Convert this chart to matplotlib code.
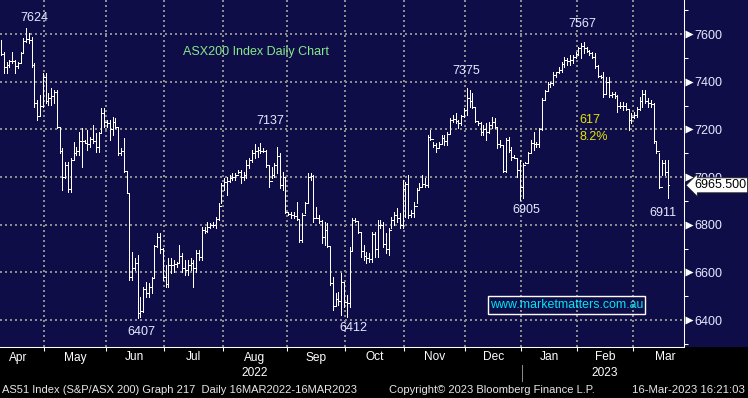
import numpy as np
import matplotlib
matplotlib.use('Agg')
import matplotlib.pyplot as plt
from matplotlib.patches import Rectangle
from matplotlib.lines import Line2D
from matplotlib.transforms import offset_copy

plt.rcParams['font.family'] = ['Liberation Sans', 'DejaVu Sans']

# ---------------- data (daily bars, ASX200, Apr 2022 - 16 Mar 2023) ----------------
highs = [
    7575, 7525, 7483, 7491, 7525, 7491, 7483, 7525, 7583, 7624,
    7604, 7588, 7478, 7323, 7344, 7436, 7436, 7352, 7373, 7365,
    7365, 7205, 7121, 7063, 7063, 7079, 7147, 7126, 7189, 7205,
    7155, 7197, 7168, 7218, 7184, 7189, 7289, 7289, 7239, 7239,
    7252, 7247, 7210, 7121, 7163, 7021, 6932, 6685, 6659, 6672,
    6496, 6538, 6559, 6554, 6580, 6714, 6764, 6764, 6701, 6630,
    6659, 6659, 6651, 6643, 6714, 6680, 6651, 6651, 6659, 6651,
    6693, 6693, 6790, 6790, 6811, 6806, 6811, 6832, 6890, 6974,
    6995, 7000, 7008, 7016, 7016, 7029, 7029, 7021, 7071, 7079,
    7113, 7137, 7126, 7142, 7121, 7113, 7050, 7042, 7058, 7126,
    7100, 7021, 7000, 6853, 6853, 6853, 6895, 6819, 6848, 6895,
    7016, 7016, 7008, 6874, 6840, 6819, 6811, 6806, 6706, 6580,
    6512, 6517, 6596, 6559, 6504, 6706, 6827, 6827, 6811, 6764,
    6714, 6685, 6680, 6769, 6769, 6819, 6819, 6811, 6764, 6785,
    6832, 6853, 6869, 6848, 6987, 6979, 7008, 6861, 6895, 6953,
    6974, 7008, 6995, 7176, 7197, 7147, 7142, 7147, 7176, 7176,
    7189, 7247, 7260, 7268, 7239, 7260, 7289, 7375, 7365, 7352,
    7289, 7231, 7231, 7218, 7226, 7231, 7252, 7247, 7205, 7155,
    7134, 7163, 7168, 7126, 7092, 7079, 7071, 7058, 7063, 7105,
    7155, 7189, 7147, 7205, 7331, 7365, 7399, 7399, 7441, 7441,
    7462, 7483, 7504, 7499, 7512, 7512, 7525, 7546, 7562, 7567,
    7546, 7533, 7525, 7520, 7470, 7428, 7441, 7420, 7420, 7357,
    7357, 7344, 7315, 7315, 7310, 7281, 7268, 7273, 7294, 7336,
    7365, 7365, 7331, 7323, 7310, 7147, 7100, 7071, 7071, 7071,
]
lows = [
    7512, 7436, 7436, 7462, 7478, 7436, 7457, 7478, 7525, 7567,
    7562, 7462, 7294, 7239, 7260, 7294, 7310, 7302, 7302, 7310,
    7205, 7100, 6945, 6995, 6937, 6937, 7071, 7092, 7092, 7042,
    7142, 7113, 7126, 7142, 7105, 7105, 7184, 7210, 7210, 7155,
    7176, 7205, 7092, 7092, 7021, 6932, 6567, 6567, 6609, 6407,
    6412, 6433, 6496, 6496, 6512, 6580, 6706, 6680, 6567, 6538,
    6538, 6596, 6601, 6622, 6638, 6601, 6588, 6588, 6609, 6538,
    6601, 6651, 6651, 6764, 6769, 6785, 6790, 6785, 6819, 6890,
    6945, 6924, 6979, 6987, 6987, 7016, 6974, 6987, 6995, 7037,
    7063, 7079, 7084, 7100, 7105, 7042, 6958, 6995, 7000, 7016,
    6953, 6945, 6848, 6840, 6827, 6827, 6819, 6727, 6727, 6848,
    6890, 6987, 6811, 6827, 6806, 6722, 6714, 6706, 6546, 6441,
    6462, 6462, 6420, 6454, 6412, 6454, 6693, 6811, 6764, 6664,
    6651, 6638, 6643, 6643, 6664, 6664, 6785, 6706, 6680, 6672,
    6785, 6798, 6811, 6785, 6785, 6832, 6827, 6832, 6832, 6890,
    6945, 6958, 6958, 6958, 7155, 7126, 7105, 7121, 7142, 7134,
    7134, 7184, 7231, 7226, 7205, 7218, 7252, 7260, 7294, 7289,
    7231, 7218, 7176, 7176, 7155, 7184, 7205, 7205, 7121, 7126,
    7021, 7021, 7105, 7071, 7079, 7000, 6905, 6911, 7058, 7058,
    7100, 7113, 7126, 7126, 7197, 7323, 7365, 7378, 7386, 7420,
    7436, 7441, 7462, 7470, 7470, 7478, 7499, 7512, 7499, 7520,
    7525, 7512, 7499, 7457, 7420, 7415, 7336, 7352, 7336, 7336,
    7331, 7273, 7289, 7281, 7281, 7197, 7226, 7247, 7252, 7281,
    7294, 7310, 7294, 7294, 7142, 7100, 6953, 7008, 7008, 6911,
]
closes = [
    7515, 7460, 7470, 7485, 7485, 7465, 7478, 7520, 7570, 7580,
    7575, 7470, 7310, 7255, 7300, 7420, 7320, 7330, 7340, 7355,
    7210, 7110, 7000, 7050, 6950, 7070, 7100, 7110, 7150, 7150,
    7145, 7140, 7160, 7150, 7125, 7185, 7270, 7230, 7225, 7200,
    7230, 7210, 7100, 7110, 7025, 6935, 6580, 6620, 6640, 6430,
    6440, 6530, 6515, 6540, 6578, 6710, 6750, 6700, 6580, 6550,
    6630, 6630, 6635, 6640, 6670, 6620, 6610, 6630, 6640, 6620,
    6680, 6665, 6780, 6775, 6790, 6800, 6800, 6825, 6880, 6965,
    6980, 6985, 6995, 7000, 7010, 7020, 7000, 7010, 7050, 7070,
    7100, 7110, 7115, 7110, 7110, 7050, 6985, 7010, 7050, 7090,
    6965, 7000, 6855, 6845, 6840, 6835, 6825, 6735, 6840, 6890,
    7000, 7005, 6830, 6830, 6815, 6750, 6780, 6710, 6555, 6460,
    6490, 6480, 6560, 6475, 6470, 6690, 6820, 6815, 6770, 6690,
    6670, 6660, 6655, 6760, 6700, 6800, 6800, 6720, 6700, 6780,
    6820, 6840, 6830, 6800, 6950, 6970, 6840, 6850, 6880, 6945,
    6960, 6970, 6965, 7170, 7160, 7135, 7120, 7140, 7165, 7150,
    7180, 7240, 7245, 7235, 7225, 7255, 7280, 7330, 7320, 7295,
    7235, 7225, 7190, 7200, 7190, 7220, 7230, 7210, 7140, 7135,
    7025, 7155, 7115, 7085, 7080, 7030, 6960, 7050, 7060, 7100,
    7145, 7140, 7140, 7200, 7325, 7360, 7390, 7395, 7430, 7440,
    7450, 7475, 7490, 7485, 7490, 7505, 7515, 7540, 7550, 7540,
    7530, 7520, 7505, 7465, 7425, 7420, 7350, 7400, 7345, 7350,
    7340, 7300, 7300, 7300, 7285, 7240, 7250, 7260, 7285, 7320,
    7350, 7320, 7310, 7305, 7150, 7110, 6960, 7060, 7020, 6965.5,
]
last_price = 6965.5

# month names and index of first trading day of each month (first/last are virtual)
month_names = ['Apr', 'May', 'Jun', 'Jul', 'Aug', 'Sep', 'Oct', 'Nov', 'Dec',
               'Jan', 'Feb', 'Mar']
month_first_bar = [-3, 16, 38, 59, 80, 103, 124, 145, 167, 187, 207, 227, 250]
year_labels = [('2022', 'Aug'), ('2023', 'Feb')]

y_major = list(range(6400, 7601, 200))
y_minor = list(range(6300, 7701, 200))

# annotations: (text, bar index, value)
peak_labels = [('7624', 12, 7666), ('7137', 96.5, 7236), ('7375', 166.7, 7445),
               ('7567', 208.5, 7642), ('6407', 50.2, 6351), ('6412', 126.5, 6367),
               ('6905', 188.4, 6861), ('6911', 237.5, 6849)]

# ---------------- figure ----------------
W, H = 748, 398
NAVY = '#0f0d48'
fig = plt.figure(figsize=(W / 100, H / 100), dpi=100, facecolor='black')


def fx(px):
    return px / W


def fy(py):
    return 1 - py / H


fig.add_artist(Rectangle((0, fy(347)), 1, 1 - fy(347), transform=fig.transFigure,
                         fc=NAVY, ec='none', zorder=-5))
ax = fig.add_axes([0, fy(347), fx(684), 347 / H])
ax.set_facecolor(NAVY)

x = np.arange(len(closes))
ax.vlines(x, lows, highs, colors='white', linewidth=0.6, antialiased=False, zorder=3)
tick_end = np.append(x[1:], x[-1] + 0.5)
ax.hlines(closes, x, tick_end, colors='white', linewidth=0.6, antialiased=False, zorder=3)

# axes styling
for s in ['top', 'left']:
    ax.spines[s].set_visible(False)
for s in ['right', 'bottom']:
    ax.spines[s].set_color('white')
    ax.spines[s].set_linewidth(0.75)

ax.yaxis.tick_right()
ax.set_yticks(y_major)
ax.set_yticks(y_minor, minor=True)
ax.tick_params(axis='y', which='major', length=0, pad=7.5, labelsize=9,
               labelcolor='#e8e8ff')
ax.tick_params(axis='y', which='minor', length=2.9, width=0.75, color='white',
               direction='out')

bounds = [b - 0.5 for b in month_first_bar]
ax.set_xticks(bounds[1:-1])
ax.tick_params(axis='x', which='major', length=2.9, width=0.75, color='white',
               direction='out', labelbottom=False)

ax.grid(True, which='major', axis='both', color='#8c8c8c',
        linestyle=(0, (1, 1.5)), linewidth=1.44)
ax.set_axisbelow(True)

tri_trans = offset_copy(ax.get_yaxis_transform(), fig=fig, x=4.5, y=0, units='dots')
ax.plot([1.0] * len(y_major), y_major, ls='none', marker='>', ms=6, color='white',
        mec='none', transform=tri_trans, clip_on=False, zorder=4)

# last price tag
tag_trans = offset_copy(ax.get_yaxis_transform(), fig=fig, x=10, y=0, units='dots')
ax.text(1.0, last_price, f'{last_price:.3f}', transform=tag_trans, ha='left',
        va='center', fontsize=9, color='black', clip_on=False, zorder=10,
        bbox=dict(boxstyle='larrow,pad=0.12', fc='white', ec='#202020', lw=0.6))

# month labels
xt = ax.get_xaxis_transform()
centers = {}
for i, name in enumerate(month_names):
    c = (month_first_bar[i] + month_first_bar[i + 1]) / 2 - 0.5
    centers[name] = c
    ax.text(c, (347 - 357.5) / 347, name, transform=xt, ha='center', va='center',
            fontsize=8.6, color='white', clip_on=False)
for yr, m in year_labels:
    ax.text(centers[m], (347 - 373) / 347, yr, transform=xt, ha='center',
            va='center', fontsize=8.6, color='white', clip_on=False)
fig.add_artist(Line2D([fx(522), fx(522)], [fy(365), fy(381)], transform=fig.transFigure,
                      color='#888888', lw=0.75))

# annotations
for t, xi, v in peak_labels:
    ax.text(xi, v, t, ha='center', va='center', fontsize=9, color='#e8e8ff', zorder=5)
ax.text(65.4, 7526, 'ASX200 Index Daily Chart', ha='left', va='center', fontsize=9,
        color='#88e888', zorder=5)
ax.text(207.4, 7239, '617', ha='left', va='center', fontsize=9, color='#e6e600', zorder=5)
ax.text(207.4, 7169, '8.2%', ha='left', va='center', fontsize=9, color='#e6e600', zorder=5)

# website box
fig.add_artist(Rectangle((fx(488), fy(314)), fx(645) - fx(488), fy(296) - fy(314),
                         transform=fig.transFigure, fill=False, ec='white', lw=1, zorder=6))
fig.text(fx(566.5), fy(305.5), 'www.marketmatters.com.au', ha='center', va='center',
         fontsize=8.9, color='#00e5f5', zorder=6)

# footer
fc = '#e6e6e6'
fig.text(fx(2), fy(390), 'AS51 Index (S&P/ASX 200) Graph 217  Daily 16MAR2022-16MAR2023',
         ha='left', va='center', fontsize=8.0, color=fc)
fig.text(fx(389), fy(390), 'Copyright\u00a9 2023 Bloomberg Finance L.P.', ha='left',
         va='center', fontsize=8.0, color=fc)
fig.text(fx(745), fy(390), '16-Mar-2023 16:21:03', ha='right', va='center',
         fontsize=8.2, color=fc)

ax.set_xlim(-0.36, 244.9)
ax.set_ylim(6287, 7743)

fig.savefig('out.png', dpi=100, facecolor='black')
